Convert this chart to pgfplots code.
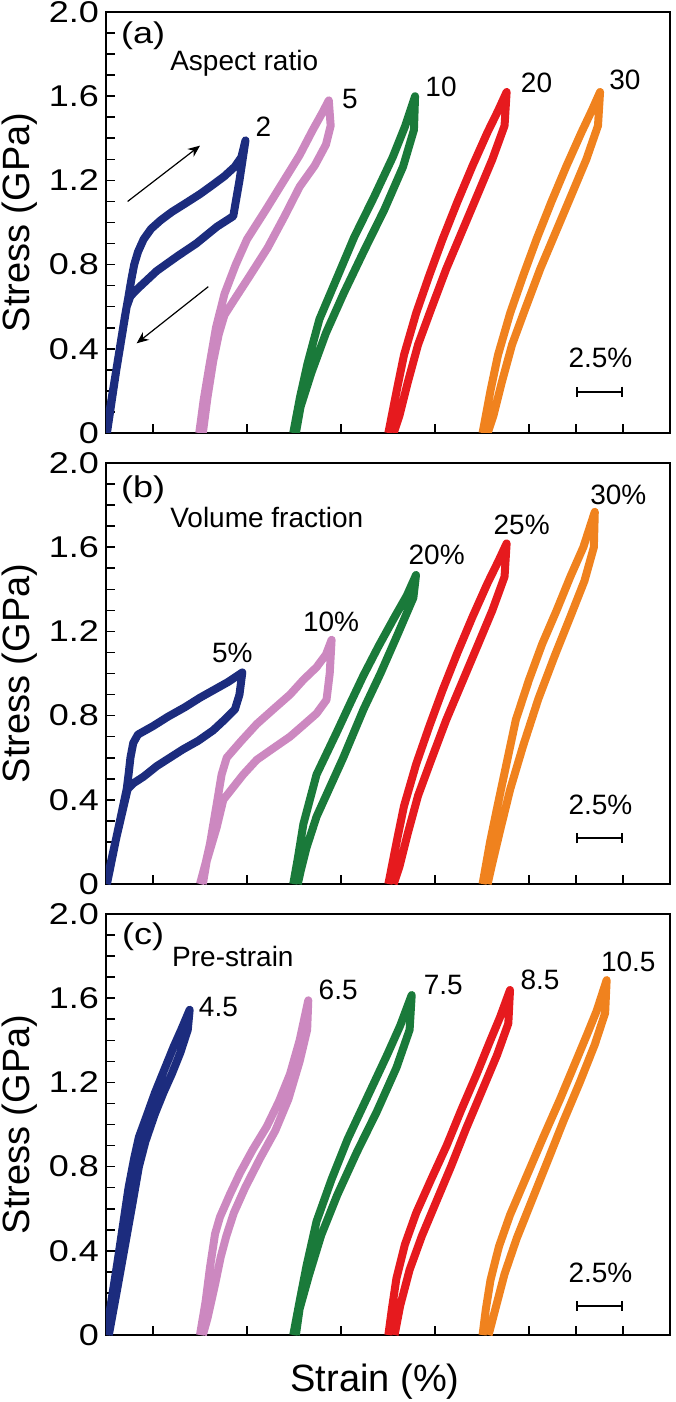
\documentclass[border=0pt]{standalone}
\usepackage{fontspec}
\setmainfont{Liberation Sans}
\newfontfamily\widefont{Liberation Sans}[FakeStretch=1.2]
\usepackage{pgfplots}
\pgfplotsset{compat=1.18}
\usetikzlibrary{arrows.meta}

\definecolor{cblue}{RGB}{28,44,126}
\definecolor{cpink}{RGB}{204,136,192}
\definecolor{cgreen}{RGB}{26,122,58}
\definecolor{cred}{RGB}{230,26,30}
\definecolor{corange}{RGB}{240,130,30}

\pgfplotsset{
  panel/.style={
    scale only axis, width=282pt, height=210.5pt,
    xmin=0, xmax=30, ymin=0, ymax=2,
    axis line style={line width=1pt},
    xtick={2.5,7.5,12.5,17.5,22.5,25,27.5}, xticklabels={},
    ytick={0,0.4,0.8,1.2,1.6,2.0},
    yticklabels={0,0.4,0.8,1.2,1.6,2.0},
    minor y tick num=3,
    xtick pos=bottom, ytick pos=left,
    tick align=inside,
    major tick length=4.5pt, minor tick length=4.5pt,
    tick style={black, line width=0.8pt},
    yticklabel style={font=\widefont\fontsize{15}{15}\selectfont},
    ylabel={Stress (GPa)},
    ylabel style={font=\fontsize{19}{19}\selectfont,
      at={(axis description cs:-0.153,0.5)}, anchor=center},
  },
  loop/.style={line width=4pt, line join=round, no marks},
}
\tikzset{
  lbl/.style={font=\fontsize{14}{14}\selectfont, inner sep=0pt},
  tag/.style={font=\widefont\fontsize{15}{15}\selectfont, inner sep=0pt},
  sbar/.style={line width=0.9pt, {Bar[width=5pt]}-{Bar[width=5pt]}},
}

\begin{document}
\begin{tikzpicture}
\path[use as bounding box] (-53pt,-484.5pt) rectangle (284.5pt,216.5pt);

% (a) aspect ratio
\begin{axis}[panel, at={(0pt,0pt)}, anchor=south west]
\addplot[loop, cblue] coordinates {(0,0) (0.55,0.3) (1.0,0.55) (1.2,0.65) (1.35,0.73) (1.5,0.8) (1.7,0.86) (2.0,0.92) (2.4,0.97) (2.9,1.01) (3.5,1.05) (4.3,1.095) (5.0,1.135) (5.7,1.18) (6.3,1.22) (6.85,1.265) (7.2,1.31) (7.42,1.39)
 (7.1,1.2) (6.77,1.03) (5.9,0.98) (4.8,0.9) (3.8,0.84) (2.7,0.77) (1.8,0.695) (1.3,0.65) (1.1,0.6) (0.55,0.3) (0.05,0)};
\addplot[loop, cpink] coordinates {(4.96,0) (5.2,0.16) (5.5,0.32) (5.85,0.5) (6.3,0.66) (6.9,0.8) (7.5,0.92) (8.5,1.06) (9.4,1.19) (10.3,1.32) (11.0,1.44) (11.5,1.52) (11.85,1.58)
 (11.95,1.46) (11.7,1.37) (11.1,1.27) (10.3,1.17) (9.5,1.03) (8.6,0.88) (7.6,0.74) (6.8,0.63) (6.3,0.56) (6.0,0.47) (5.7,0.34) (5.4,0.17) (5.15,0)};
\addplot[loop, cgreen] coordinates {(9.96,0) (10.32,0.17) (10.72,0.33) (11.35,0.54) (12.3,0.74) (13.2,0.93) (14.25,1.12) (15.25,1.31) (15.9,1.455) (16.44,1.6)
 (16.38,1.44) (15.8,1.265) (14.8,1.06) (13.75,0.87) (12.65,0.665) (11.7,0.475) (10.92,0.285) (10.35,0.125) (10.1,0)};
\addplot[loop, cred] coordinates {(15.02,0) (15.46,0.2) (15.85,0.37) (16.5,0.57) (17.2,0.75) (17.9,0.92) (18.7,1.1) (19.5,1.27) (20.3,1.43) (20.85,1.53) (21.31,1.62)
 (21.2,1.46) (20.55,1.3) (19.8,1.14) (18.95,0.96) (18.1,0.78) (17.3,0.59) (16.6,0.42) (16.05,0.24) (15.6,0.08) (15.3,0)};
\addplot[loop, corange] coordinates {(20.03,0) (20.45,0.2) (20.85,0.37) (21.5,0.57) (22.2,0.75) (22.9,0.92) (23.7,1.1) (24.5,1.27) (25.3,1.43) (25.83,1.53) (26.28,1.62)
 (26.17,1.46) (25.55,1.3) (24.8,1.14) (23.95,0.96) (23.1,0.78) (22.3,0.59) (21.6,0.42) (21.05,0.24) (20.6,0.08) (20.3,0)};
\draw[-{Stealth[length=6pt,width=5pt]}, line width=0.6pt] (axis cs:1.15,1.10) -- (axis cs:5.0,1.365);
\draw[-{Stealth[length=6pt,width=5pt]}, line width=0.6pt] (axis cs:5.44,0.695) -- (axis cs:1.63,0.426);
\node[tag] at (axis cs:1.97,1.886) {(a)};
\node[lbl, anchor=base west] at (axis cs:3.4,1.724) {Aspect ratio};
\node[lbl] at (axis cs:8.37,1.455) {2};
\node[lbl] at (axis cs:12.98,1.588) {5};
\node[lbl] at (axis cs:17.82,1.642) {10};
\node[lbl] at (axis cs:22.9,1.664) {20};
\node[lbl] at (axis cs:27.6,1.677) {30};
\draw[sbar] (axis cs:25,0.196) -- (axis cs:27.5,0.196);
\node[lbl] at (axis cs:26.3,0.355) {2.5\%};
\end{axis}

% (b) volume fraction
\begin{axis}[panel, at={(0pt,-225.5pt)}, anchor=south west]
\addplot[loop, cblue] coordinates {(0,0) (0.55,0.22) (1.1,0.45) (1.2,0.52) (1.3,0.6) (1.45,0.67) (1.7,0.71) (2.5,0.75) (3.3,0.795) (4.2,0.84) (5.0,0.885) (5.8,0.925) (6.5,0.96) (7.25,1.005)
 (7.1,0.9) (6.86,0.83) (6.3,0.78) (5.7,0.73) (4.9,0.68) (4.1,0.64) (3.4,0.6) (2.7,0.56) (2.0,0.51) (1.45,0.478) (1.15,0.45) (0.55,0.22) (0.05,0)};
\addplot[loop, cpink] coordinates {(5.0,0) (5.3,0.1) (5.53,0.19) (5.89,0.38) (6.15,0.52) (6.42,0.6) (7.2,0.68) (8.02,0.76) (8.9,0.83) (9.79,0.9) (10.5,0.97) (11.2,1.03) (11.7,1.09) (12.0,1.16)
 (11.9,1.0) (11.73,0.875) (11.2,0.81) (10.5,0.755) (9.79,0.7) (8.9,0.645) (8.02,0.59) (7.3,0.52) (6.77,0.46) (6.24,0.4) (5.89,0.27) (5.36,0.11) (5.15,0)};
\addplot[loop, cgreen] coordinates {(9.96,0) (10.2,0.12) (10.5,0.285) (11.2,0.52) (12.27,0.72) (13.0,0.86) (13.69,0.99) (14.5,1.13) (15.3,1.26) (16.0,1.37) (16.49,1.468)
 (16.35,1.36) (15.46,1.175) (14.6,1.0) (13.7,0.83) (12.62,0.6) (11.91,0.46) (11.2,0.32) (10.67,0.174) (10.35,0.06) (10.2,0)};
\addplot[loop, cred] coordinates {(15.02,0) (15.46,0.2) (15.85,0.37) (16.5,0.57) (17.2,0.75) (17.9,0.92) (18.7,1.1) (19.5,1.27) (20.3,1.43) (20.85,1.53) (21.31,1.618)
 (21.2,1.46) (20.55,1.3) (19.8,1.14) (18.95,0.96) (18.1,0.78) (17.3,0.59) (16.6,0.42) (16.05,0.24) (15.6,0.08) (15.3,0)};
\addplot[loop, corange] coordinates {(20.03,0) (20.43,0.2) (20.8,0.36) (21.3,0.57) (21.8,0.78) (22.5,0.97) (23.2,1.14) (23.97,1.3) (24.7,1.46) (25.39,1.6) (26.0,1.768)
 (25.95,1.6) (25.45,1.44) (24.7,1.27) (23.85,1.08) (23.0,0.88) (22.2,0.66) (21.5,0.45) (20.95,0.25) (20.5,0.08) (20.3,0)};
\node[tag] at (axis cs:1.97,1.872) {(b)};
\node[lbl, anchor=base west] at (axis cs:3.4,1.694) {Volume fraction};
\node[lbl] at (axis cs:6.72,1.096) {5\%};
\node[lbl] at (axis cs:11.97,1.246) {10\%};
\node[lbl] at (axis cs:17.59,1.563) {20\%};
\node[lbl] at (axis cs:22.11,1.705) {25\%};
\node[lbl] at (axis cs:27.25,1.848) {30\%};
\draw[sbar] (axis cs:25,0.217) -- (axis cs:27.5,0.217);
\node[lbl] at (axis cs:26.3,0.375) {2.5\%};
\end{axis}

% (c) pre-strain
\begin{axis}[panel, at={(0pt,-451pt)}, anchor=south west,
  xlabel={Strain (\%)},
  xlabel style={font=\fontsize{19}{19}\selectfont,
    at={(axis description cs:0.477,-0.111)}, anchor=center}]
\addplot[loop, cblue] coordinates {(0,0) (0.3,0.17) (0.6,0.34) (0.9,0.52) (1.2,0.7) (1.5,0.84) (1.75,0.94) (2.2,1.05) (2.6,1.15) (3.1,1.26) (3.6,1.37) (4.0,1.45) (4.45,1.545)
 (4.35,1.45) (3.95,1.34) (3.5,1.24) (3.05,1.15) (2.6,1.05) (2.1,0.92) (1.75,0.8) (1.4,0.62) (1.0,0.42) (0.6,0.22) (0.15,0)};
\addplot[loop, cpink] coordinates {(5.0,0) (5.3,0.16) (5.53,0.32) (5.8,0.48) (6.06,0.56) (6.6,0.67) (7.13,0.77) (7.8,0.88) (8.55,0.99) (9.2,1.11) (9.79,1.24) (10.3,1.4) (10.76,1.59)
 (10.7,1.45) (10.3,1.3) (9.7,1.12) (9.0,0.97) (8.2,0.84) (7.4,0.7) (6.8,0.58) (6.4,0.47) (6.1,0.37) (5.8,0.24) (5.4,0.08) (5.15,0)};
\addplot[loop, cgreen] coordinates {(9.96,0) (10.32,0.17) (10.67,0.33) (11.2,0.54) (12.0,0.74) (12.85,0.93) (13.9,1.13) (14.95,1.33) (15.65,1.47) (16.26,1.615)
 (16.15,1.45) (15.45,1.27) (14.4,1.06) (13.35,0.87) (12.3,0.665) (11.45,0.475) (10.8,0.285) (10.3,0.125) (10.1,0)};
\addplot[loop, cred] coordinates {(15.02,0) (15.2,0.12) (15.45,0.27) (15.9,0.43) (16.5,0.58) (17.3,0.74) (18.12,0.9) (18.9,1.07) (19.72,1.24) (20.4,1.39) (20.96,1.51) (21.49,1.639)
 (21.4,1.48) (20.8,1.33) (20.0,1.16) (19.15,0.98) (18.35,0.8) (17.55,0.63) (16.8,0.47) (16.15,0.31) (15.65,0.14) (15.35,0)};
\addplot[loop, corange] coordinates {(20.03,0) (20.2,0.12) (20.45,0.26) (20.9,0.42) (21.49,0.57) (22.4,0.76) (23.26,0.94) (24.15,1.12) (25.04,1.31) (25.6,1.43) (26.1,1.54) (26.63,1.686)
 (26.55,1.53) (26.0,1.38) (25.2,1.2) (24.35,1.02) (23.55,0.84) (22.7,0.65) (21.85,0.46) (21.2,0.29) (20.7,0.12) (20.35,0)};
\node[tag] at (axis cs:1.97,1.892) {(c)};
\node[lbl, anchor=base west] at (axis cs:3.5,1.75) {Pre-strain};
\node[lbl] at (axis cs:5.98,1.56) {4.5};
\node[lbl] at (axis cs:12.35,1.639) {6.5};
\node[lbl] at (axis cs:17.94,1.663) {7.5};
\node[lbl] at (axis cs:23.09,1.686) {8.5};
\node[lbl] at (axis cs:27.78,1.773) {10.5};
\draw[sbar] (axis cs:25,0.138) -- (axis cs:27.5,0.138);
\node[lbl] at (axis cs:26.3,0.293) {2.5\%};
\end{axis}
\end{tikzpicture}
\end{document}
